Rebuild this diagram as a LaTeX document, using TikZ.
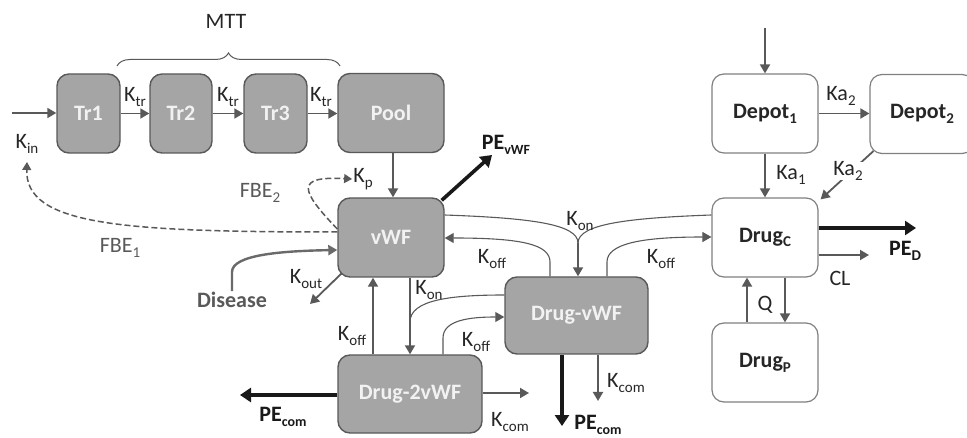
\documentclass[tikz,border=0pt]{standalone}
\usepackage{fontspec}
\setmainfont{Carlito}
\usetikzlibrary{arrows.meta,decorations.pathreplacing}
\definecolor{boxfill}{HTML}{A5A5A5}
\definecolor{boxdraw}{HTML}{595959}
\definecolor{wdraw}{HTML}{808080}
\definecolor{arrcol}{HTML}{595959}
\definecolor{txtcol}{HTML}{262626}
\definecolor{gtxt}{HTML}{595959}
\definecolor{intxt}{HTML}{F2F2F2}
\newcommand\lowsub[1]{\raisebox{-0.45ex}{\fontsize{15}{15}\selectfont #1}}
\begin{document}
\begin{tikzpicture}[x=1pt,y=-1pt,
  graybox/.style={draw=boxdraw,line width=1.4pt,fill=boxfill,rounded corners=12pt,inner sep=0pt,
    text=intxt,font=\fontsize{22}{26}\selectfont\bfseries},
  whitebox/.style={draw=wdraw,line width=1.2pt,fill=white,rounded corners=12pt,inner sep=0pt,
    minimum width=106pt,minimum height=79pt,text=txtcol,font=\fontsize{22}{26}\selectfont\bfseries},
  arr/.style={draw=arrcol,line width=1.8pt,-{Triangle[length=9pt,width=10pt]}},
  flow/.style={draw=arrcol,line width=1.1pt},
  thickarr/.style={draw=black!90,line width=3.6pt,-{Triangle[length=11pt,width=14pt]}},
  lbl/.style={text=txtcol,font=\fontsize{22}{26}\selectfont,inner sep=1pt},
  glbl/.style={text=gtxt,font=\fontsize{22}{26}\selectfont,inner sep=1pt},
  pelbl/.style={text=black!90,font=\fontsize{22}{26}\selectfont\bfseries,inner sep=1pt},
  fb/.style={draw=arrcol,line width=1.5pt,dash pattern=on 6pt off 3pt,-{Triangle[length=8pt,width=9pt]}}
]
\useasboundingbox (0,0) rectangle (967,438);
% boxes
\node[graybox,minimum width=63pt,minimum height=79pt] (tr1) at (88.5,113.5) {Tr1};
\node[graybox,minimum width=62pt,minimum height=79pt] (tr2) at (181,113.5) {Tr2};
\node[graybox,minimum width=63pt,minimum height=79pt] (tr3) at (275.5,113.5) {Tr3};
\node[graybox,minimum width=106pt,minimum height=79pt] (pool) at (391,113) {Pool};
\node[graybox,minimum width=106pt,minimum height=79pt] (vwf) at (391,237.5) {vWF};
\node[graybox,minimum width=143pt,minimum height=77pt] (dvwf) at (576.5,315.5) {Drug-vWF};
\node[graybox,minimum width=144pt,minimum height=78pt] (d2vwf) at (410,394) {Drug-2vWF};
\node[whitebox] (dep1) at (765,113.5) {Depot\lowsub{1}};
\node[whitebox,minimum width=104pt] (dep2) at (922,114) {Depot\lowsub{2}};
\node[whitebox] (drugc) at (765,237.5) {Drug\lowsub{C}};
\node[whitebox] (drugp) at (765,362.5) {Drug\lowsub{P}};
% top chain
\coordinate (kin0) at (12,113);
\draw[arr] (kin0) -- (tr1.west |- kin0);
\node[lbl] (kin) at (27,144) {K\lowsub{in}};
\draw[arr] (tr1) -- (tr2);
\draw[arr] (tr2) -- (tr3);
\draw[arr] (tr3) -- (pool.west |- tr3);
\node[lbl] (ktr1) at (135,97) {K\lowsub{tr}};
\node[lbl] (ktr2) at (228,97) {K\lowsub{tr}};
\node[lbl] (ktr3) at (321,97) {K\lowsub{tr}};
\draw[draw=arrcol,line width=1pt,decorate,decoration={brace,amplitude=13pt}]
  (117,66) -- (340,66);
\node[lbl] (mtt) at (226,21) {MTT};
% pool -> vwf
\draw[arr] (pool.south -| 393,0) -- (vwf.north -| 393,0);
\node[lbl] (kp) at (363,179) {K\lowsub{p}};
\coordinate (pevwf) at (492,155);
\draw[thickarr] (vwf.north east) ++(-3,3) -- (pevwf);
\node[pelbl] (pevwfl) at (506,145) {PE\lowsub{\fontsize{14}{14}\selectfont vWF}};
% feedbacks
\draw[fb] (vwf.west |- 0,232) .. controls (120,232) and (25,225) .. (kin.north |- 0,162);
\node[glbl] (fbe1) at (120,248) {FBE\lowsub{1}};
\draw[fb] (vwf.west |- 0,229) .. controls (300,190) and (295,176) .. (kp.west);
\node[glbl] (fbe2) at (260,193) {FBE\lowsub{2}};
% disease
\node[text=gtxt,font=\fontsize{22}{26}\selectfont\bfseries,inner sep=1pt] (dis) at (232,300) {Disease};
\draw[draw=arrcol!90,line width=2.4pt,-{Triangle[length=9pt,width=10pt]}]
  (dis.north) -- (232,272) .. controls (232,255) and (280,251) .. (vwf.west |- 0,250);
% kout
\coordinate (kout0) at (310,304);
\draw[arr] (vwf.south west) ++(4,-4) -- (kout0);
\node[lbl] (kout) at (306,279) {K\lowsub{out}};
% vWF <-> Drug-vWF <-> DrugC
\coordinate (jon) at (578,243);
\draw[flow] (vwf.east |- 0,215) .. controls (530,218) and (578,224) .. (jon);
\draw[flow] (drugc.west |- 0,215) .. controls (628,218) and (578,224) .. (jon);
\draw[arr] (jon) -- (jon |- dvwf.north);
\node[lbl] (kon1) at (580,221) {K\lowsub{on}};
\draw[flow,-{Triangle[length=9pt,width=10pt]}] (dvwf.north -| 550,0) -- (550,262)
  .. controls (550,244) and (520,238) .. (vwf.east |- 0,238);
\node[lbl] (koff1) at (492,259) {K\lowsub{off}};
\draw[flow,-{Triangle[length=9pt,width=10pt]}] (dvwf.north -| 607,0) -- (607,262)
  .. controls (607,244) and (640,237) .. (drugc.west |- 0,237);
\node[lbl] (koff2) at (661,259) {K\lowsub{off}};
% vWF <-> Drug-2vWF
\coordinate (jon2) at (410,322);
\draw[arr] (vwf.south -| 410,0) -- (d2vwf.north -| 410,0);
\draw[flow] (dvwf.west |- 0,295) .. controls (450,295) and (410,300) .. (jon2);
\node[lbl] (kon2) at (429,290) {K\lowsub{on}};
\draw[arr] (d2vwf.north -| 373,0) -- (vwf.south -| 373,0);
\node[lbl] (koff3) at (352,336) {K\lowsub{off}};
\draw[flow,-{Triangle[length=9pt,width=10pt]}] (d2vwf.north -| 443,0) -- (443,338)
  .. controls (443,320) and (470,317) .. (dvwf.west |- 0,317);
\node[lbl] (koff4) at (476,342) {K\lowsub{off}};
% outputs of complexes
\coordinate (kcom2) at (529,393);
\draw[arr] (d2vwf.east |- kcom2) -- (kcom2);
\node[lbl] (kcoml2) at (510,422) {K\lowsub{com}};
\coordinate (pecom2) at (240,395);
\draw[thickarr] (d2vwf.west |- pecom2) -- (pecom2);
\node[pelbl] (pecoml2) at (283,417) {PE\lowsub{\fontsize{14}{14}\selectfont com}};
\coordinate (pecom1) at (562,426);
\draw[thickarr] (dvwf.south -| pecom1) -- (pecom1);
\node[pelbl] (pecoml1) at (598,425) {PE\lowsub{\fontsize{14}{14}\selectfont com}};
\coordinate (kcom1) at (598,401);
\draw[arr] (dvwf.south -| kcom1) -- (kcom1);
\node[lbl] (kcoml1) at (626,383) {K\lowsub{com}};
% drug side
\coordinate (dose) at (765,28);
\draw[arr] (dose) -- (dep1.north);
\draw[arr] (dep1) -- (dep2.west |- dep1);
\node[lbl] (ka2a) at (841,96) {Ka\lowsub{2}};
\draw[arr] (dep1) -- (drugc);
\node[lbl] (ka1) at (791,175) {Ka\lowsub{1}};
\draw[arr] (dep2.south west) ++(4,-3) -- ([shift={(2,2)}]drugc.north east);
\node[lbl,fill=white,inner sep=0pt] (ka2b) at (848,171) {Ka\lowsub{2}};
\coordinate (ped) at (916,228);
\draw[thickarr] (drugc.east |- ped) -- (ped);
\node[pelbl] (pedl) at (905,251) {PE\lowsub{D}};
\coordinate (cl) at (869,255);
\draw[arr] (drugc.east |- cl) -- (cl);
\node[lbl] (cll) at (840,278) {CL};
\draw[arr] (drugc.south -| 785,0) -- (drugp.north -| 785,0);
\draw[arr] (drugp.north -| 747,0) -- (drugc.south -| 747,0);
\node[lbl] (q) at (765,305) {Q};
\end{tikzpicture}
\end{document}
